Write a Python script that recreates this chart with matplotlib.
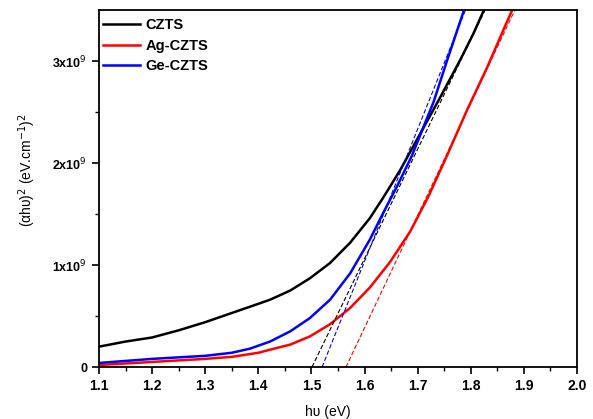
import matplotlib
matplotlib.use("Agg")
import matplotlib.pyplot as plt
import numpy as np

plt.rcParams['font.family'] = ['Liberation Sans', 'DejaVu Sans']

# photon energy (eV) and (alpha h nu)^2 in units of 1e9
czts_x = [1.10, 1.15, 1.20, 1.25, 1.30, 1.35, 1.40, 1.422, 1.46, 1.497, 1.535, 1.573, 1.61,
          1.635, 1.667, 1.705, 1.742, 1.78, 1.805, 1.823]
czts_y = [0.20, 0.25, 0.29, 0.36, 0.44, 0.53, 0.62, 0.66, 0.75, 0.87, 1.02, 1.22, 1.46,
          1.66, 1.93, 2.29, 2.64, 3.01, 3.27, 3.48]

ag_x = [1.10, 1.20, 1.30, 1.35, 1.40, 1.422, 1.46, 1.497, 1.535, 1.573, 1.61, 1.648, 1.686,
        1.72, 1.755, 1.793, 1.831, 1.861, 1.878]
ag_y = [0.02, 0.05, 0.08, 0.10, 0.14, 0.17, 0.22, 0.30, 0.42, 0.58, 0.78, 1.03, 1.33,
        1.67, 2.07, 2.52, 2.94, 3.30, 3.50]

ge_x = [1.10, 1.20, 1.30, 1.35, 1.384, 1.422, 1.46, 1.497, 1.535, 1.573, 1.61, 1.635, 1.661,
        1.689, 1.73, 1.755, 1.786]
ge_y = [0.04, 0.08, 0.11, 0.14, 0.18, 0.25, 0.35, 0.48, 0.66, 0.92, 1.25, 1.51, 1.77,
        2.07, 2.60, 3.00, 3.48]

# linear fits: (x intercept, x at top of axes)
czts_fit = [1.501, 1.827]
ag_fit = [1.565, 1.883]
ge_fit = [1.520, 1.79]
fit_y = [0, 3.5]

fig = plt.figure(figsize=(5.93, 4.19), dpi=100)
ax = fig.add_axes([0.167, 0.124, 0.806, 0.852])

s = 1e9
ax.plot(czts_x, np.array(czts_y) * s, color='black', lw=1.8, label='CZTS')
ax.plot(ag_x, np.array(ag_y) * s, color='red', lw=1.8, label='Ag-CZTS')
ax.plot(ge_x, np.array(ge_y) * s, color='blue', lw=1.8, label='Ge-CZTS')

ax.plot(czts_fit, np.array(fit_y) * s, color='black', lw=0.8, ls=(0, (4, 2)))
ax.plot(ag_fit, np.array(fit_y) * s, color='red', lw=0.8, ls=(0, (4, 2)))
ax.plot(ge_fit, np.array(fit_y) * s, color='blue', lw=0.8, ls=(0, (4, 2)))

ax.set_xlim(1.1, 2.0)
ax.set_ylim(0, 3.5e9)
ax.set_xticks(np.arange(1.1, 2.01, 0.1))
ax.set_xticklabels(['%.1f' % v for v in np.arange(1.1, 2.01, 0.1)], fontweight='bold', fontsize=10)
ax.set_xticks(np.arange(1.15, 2.0, 0.1), minor=True)
ax.set_yticks([0, 1e9, 2e9, 3e9])
ax.set_yticklabels(['0', r'1x10$^{9}$', r'2x10$^{9}$', r'3x10$^{9}$'], fontweight='bold', fontsize=9)
ax.set_yticks([0.5e9, 1.5e9, 2.5e9], minor=True)
ax.tick_params(which='major', direction='out', length=5, width=1.2)
ax.tick_params(which='minor', direction='out', length=3, width=1)
for sp in ax.spines.values():
    sp.set_linewidth(1.3)

ax.set_xlabel('h\u03c5 (eV)', fontsize=10)
ax.set_ylabel('(\u03b1h\u03c5)$^2$ (eV.cm$^{-1}$)$^2$', fontsize=10)
ax.xaxis.set_label_coords(0.479, -0.105)
ax.yaxis.set_label_coords(-0.128, 0.552)

leg = ax.legend(loc='upper left', bbox_to_anchor=(-0.008, 1.0), frameon=False,
                prop={'weight': 'bold', 'size': 10.5},
                handlelength=2.5, handletextpad=0.4, labelspacing=0.45, borderaxespad=0.15)

fig.savefig('out.png', dpi=100)
